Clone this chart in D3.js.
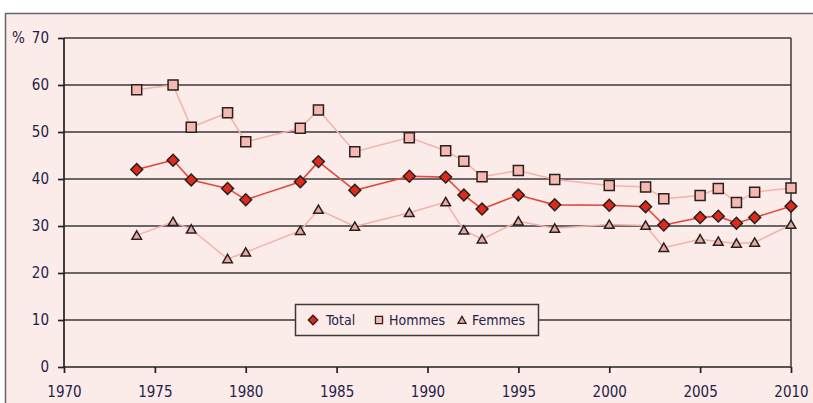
<!DOCTYPE html>
<html>
<head>
<meta charset="utf-8">
<script src="https://cdn.jsdelivr.net/npm/d3@7"></script>
<style>
  body { margin: 0; background: #fff; }
  text { font-family: "Liberation Sans Narrow", "Arial Narrow", "DejaVu Sans Condensed", sans-serif; fill: #1f2347; }
</style>
</head>
<body>
<script>
// data
const yearsTotal = [1974, 1976, 1977, 1979, 1980, 1983, 1984, 1986, 1989, 1991, 1992, 1993, 1995, 1997, 2000, 2002, 2003, 2005, 2006, 2007, 2008, 2010];
const total   = [42.0, 44.0, 39.8, 38.0, 35.6, 39.4, 43.7, 37.6, 40.6, 40.4, 36.6, 33.6, 36.6, 34.5, 34.4, 34.1, 30.2, 31.8, 32.1, 30.6, 31.8, 34.2];
const hommes  = [59.0, 60.0, 51.0, 54.1, 47.9, 50.8, 54.7, 45.8, 48.8, 46.0, 43.8, 40.5, 41.8, 39.9, 38.6, 38.3, 35.8, 36.5, 38.0, 35.0, 37.2, 38.1];
const femmes  = [28.0, 30.9, 29.3, 23.0, 24.4, 29.0, 33.5, 29.9, 32.8, 35.1, 29.1, 27.2, 31.0, 29.5, 30.3, 30.1, 25.4, 27.2, 26.7, 26.3, 26.5, 30.3];
const xTicks = [1970, 1975, 1980, 1985, 1990, 1995, 2000, 2005, 2010];
const yTicks = [0, 10, 20, 30, 40, 50, 60, 70];
const legendLabels = ["Total", "Hommes", "Femmes"];

const width = 813, height = 403;
const svg = d3.select("body").append("svg").attr("width", width).attr("height", height);

// outer panel
svg.append("rect").attr("x", 5.5).attr("y", 13.5).attr("width", width).attr("height", height)
  .attr("fill", "#fbebe9").attr("stroke", "#666").attr("stroke-width", 1.5);

const x = d3.scaleLinear().domain([1970, 2010]).range([64, 791]);
const y = d3.scaleLinear().domain([0, 70]).range([367, 38]);

// gridlines
svg.append("g").selectAll("line").data(yTicks.filter(d => d > 0)).enter().append("line")
  .attr("x1", x(1970)).attr("x2", x(2010))
  .attr("y1", d => y(d)).attr("y2", d => y(d))
  .attr("stroke", "#3a3a3a").attr("stroke-width", 1.5);

// right border of plot
svg.append("line").attr("x1", x(2010)).attr("x2", x(2010)).attr("y1", y(70)).attr("y2", y(0))
  .attr("stroke", "#3a3a3a").attr("stroke-width", 1.5);

// axes
const yAxis = svg.append("g").attr("transform", `translate(${x(1970)},0)`)
  .call(d3.axisLeft(y).tickValues(yTicks).tickSize(6).tickPadding(9));
const xAxis = svg.append("g").attr("transform", `translate(0,${y(0)})`)
  .call(d3.axisBottom(x).tickValues(xTicks).tickFormat(d3.format("d")).tickSize(6).tickPadding(13));
[yAxis, xAxis].forEach(a => {
  a.select(".domain").remove();
  a.selectAll("line").attr("stroke", "#222").attr("stroke-width", 1.7);
  a.selectAll("text").attr("font-size", 15).attr("fill", "#1f2347")
    .attr("font-family", "'Liberation Sans Narrow', 'Arial Narrow', 'DejaVu Sans Condensed', sans-serif");
});
svg.append("line").attr("x1", x(1970)).attr("x2", x(1970)).attr("y1", y(70)).attr("y2", y(0))
  .attr("stroke", "#222").attr("stroke-width", 1.7);
svg.append("line").attr("x1", x(1970)).attr("x2", x(2010)).attr("y1", y(0)).attr("y2", y(0))
  .attr("stroke", "#222").attr("stroke-width", 1.7);
svg.append("text").attr("x", 12).attr("y", y(70) + 5).attr("font-size", 15).text("%");

const series = [
  { name: legendLabels[0], values: total,  line: "#e34a3c", fill: "#dd2a1a", shape: d3.symbolSquare, rot: 45, size: 70, lw: 1.6 },
  { name: legendLabels[1], values: hommes, line: "#f4b3aa", fill: "#f6b9b0", shape: d3.symbolSquare, rot: 0, size: 100, lw: 1.5 },
  { name: legendLabels[2], values: femmes, line: "#f2b2aa", fill: "#e6aaa2", shape: d3.symbolTriangle, rot: 0, size: 40, lw: 1.5 }
];

const line = d3.line().x(d => x(d[0])).y(d => y(d[1]));

series.slice().reverse().forEach(s => {
  const pts = yearsTotal.map((yr, i) => [yr, s.values[i]]);
  svg.append("path").datum(pts).attr("d", line)
    .attr("fill", "none").attr("stroke", s.line).attr("stroke-width", s.lw);
});
series.slice().reverse().forEach(s => {
  const pts = yearsTotal.map((yr, i) => [yr, s.values[i]]);
  svg.append("g").selectAll("path").data(pts).enter().append("path")
    .attr("d", d3.symbol().type(s.shape).size(s.size))
    .attr("transform", d => `translate(${x(d[0])},${y(d[1]) + (s.shape === d3.symbolTriangle ? 1 : 0)}) rotate(${s.rot})`)
    .attr("fill", s.fill).attr("stroke", "#2a2020").attr("stroke-width", 1.5);
});

// legend
const lg = svg.append("g");
lg.append("rect").attr("x", 295.5).attr("y", 304.5).attr("width", 243).attr("height", 31)
  .attr("fill", "#fbebe9").attr("stroke", "#3a3a3a").attr("stroke-width", 1.5);
const legendPos = [{ mx: 313, tx: 326 }, { mx: 379, tx: 389 }, { mx: 462, tx: 472 }];
const legendSize = [45, 50, 28];
series.forEach((s, i) => {
  lg.append("path").attr("d", d3.symbol().type(s.shape).size(legendSize[i]))
    .attr("transform", `translate(${legendPos[i].mx},${320 + (i === 2 ? 1 : 0)}) rotate(${s.rot})`)
    .attr("fill", s.fill).attr("stroke", "#2a2020").attr("stroke-width", 1.3);
  lg.append("text").attr("x", legendPos[i].tx).attr("y", 325).attr("font-size", 14).text(s.name);
});
</script>
</body>
</html>
